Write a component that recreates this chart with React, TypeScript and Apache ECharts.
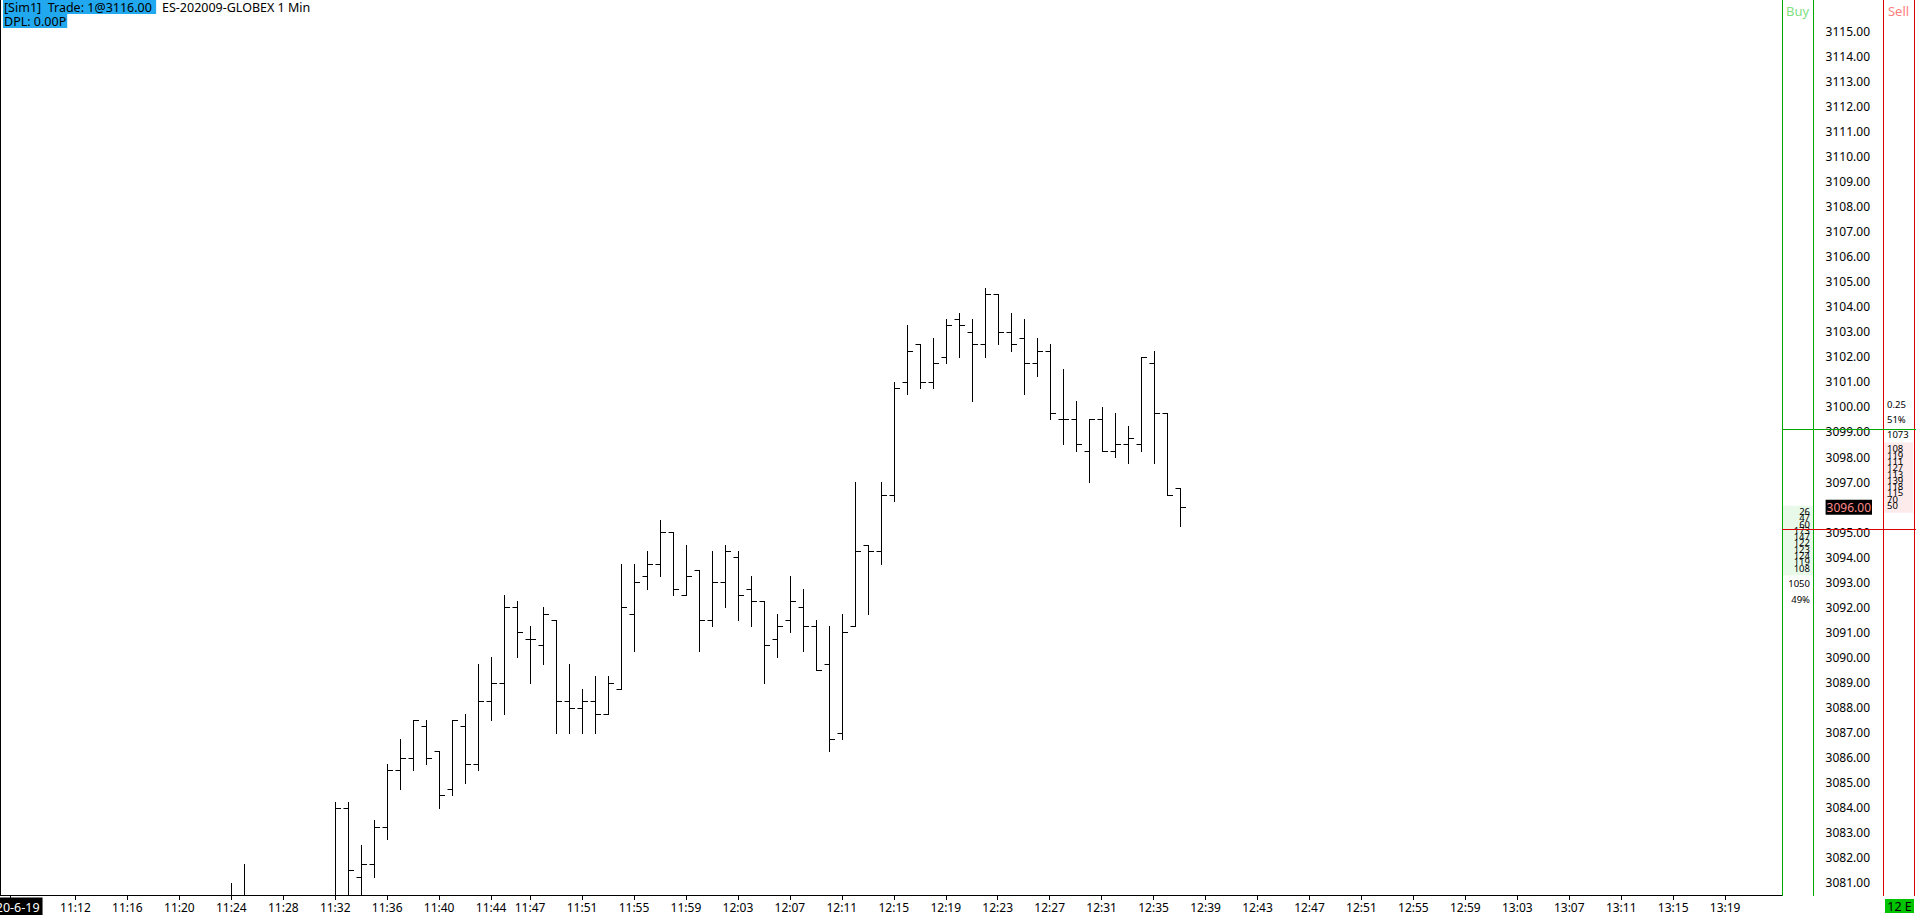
import React, { useEffect, useRef } from 'react';
import * as echarts from 'echarts';

// ---------- Data ----------
const firstMinute = '11:07';
const minuteCount = 137; // 11:07 .. 13:23 (one slot per minute bar)
const sessionDate = '2020-6-19';

const axisLabelTimes = [
  '11:07', '11:12', '11:16', '11:20', '11:24', '11:28', '11:32', '11:36', '11:40', '11:44',
  '11:47', '11:51', '11:55', '11:59', '12:03', '12:07', '12:11', '12:15', '12:19', '12:23',
  '12:27', '12:31', '12:35', '12:39', '12:43', '12:47', '12:51', '12:55', '12:59', '13:03',
  '13:07', '13:11', '13:15', '13:19',
];

// visible 1-minute OHLC bars (bars between 11:26 and 11:31 lie below the visible range)
const barTimes = [
  '11:24', '11:25', '11:32', '11:33', '11:34', '11:35', '11:36', '11:37', '11:38', '11:39',
  '11:40', '11:41', '11:42', '11:43', '11:44', '11:45', '11:46', '11:47', '11:48', '11:49',
  '11:50', '11:51', '11:52', '11:53', '11:54', '11:55', '11:56', '11:57', '11:58', '11:59',
  '12:00', '12:01', '12:02', '12:03', '12:04', '12:05', '12:06', '12:07', '12:08', '12:09',
  '12:10', '12:11', '12:12', '12:13', '12:14', '12:15', '12:16', '12:17', '12:18', '12:19',
  '12:20', '12:21', '12:22', '12:23', '12:24', '12:25', '12:26', '12:27', '12:28', '12:29',
  '12:30', '12:31', '12:32', '12:33', '12:34', '12:35', '12:36', '12:37',
];
const opens = [
  3080.25, 3080.0, 3080.25, 3084.0, 3081.25, 3081.75, 3083.25, 3085.5, 3086.0, 3087.25,
  3086.25, 3084.75, 3087.25, 3085.75, 3088.25, 3089.0, 3092.0, 3090.75, 3090.5, 3091.5,
  3088.25, 3088.0, 3088.25, 3087.75, 3088.75, 3091.75, 3093.25, 3093.75, 3095.0, 3092.5,
  3093.5, 3091.5, 3093.0, 3094.0, 3092.75, 3092.25, 3090.75, 3091.5, 3092.0, 3091.25,
  3089.75, 3087.0, 3091.25, 3094.5, 3094.25, 3096.5, 3101.0, 3102.5, 3101.0, 3102.0,
  3103.5, 3103.0, 3102.5, 3104.5, 3103.0, 3102.75, 3101.75, 3102.25, 3099.5, 3099.5,
  3098.25, 3099.5, 3098.25, 3098.5, 3098.5, 3101.75, 3099.75, 3096.75,
];
const highs = [
  3081.0, 3081.75, 3084.25, 3084.25, 3082.5, 3083.5, 3085.75, 3086.75, 3087.5, 3087.5,
  3086.25, 3087.5, 3087.75, 3089.75, 3090.0, 3092.5, 3092.25, 3091.25, 3092.0, 3091.5,
  3089.75, 3088.75, 3089.25, 3089.25, 3093.75, 3093.75, 3094.25, 3095.5, 3095.0, 3094.5,
  3093.5, 3094.25, 3094.5, 3094.25, 3093.25, 3092.25, 3091.75, 3093.25, 3092.75, 3091.5,
  3091.25, 3091.75, 3097.0, 3094.5, 3097.0, 3101.0, 3103.25, 3102.5, 3102.75, 3103.5,
  3103.75, 3103.5, 3104.75, 3104.5, 3103.75, 3103.5, 3102.75, 3102.5, 3101.5, 3100.25,
  3099.5, 3100.0, 3099.75, 3099.25, 3102.0, 3102.25, 3099.75, 3096.75,
];
const lows = [
  3079.75, 3079.5, 3080.0, 3080.25, 3080.25, 3081.25, 3082.75, 3084.75, 3085.5, 3085.75,
  3084.0, 3084.5, 3085.0, 3085.5, 3087.5, 3087.75, 3090.0, 3089.0, 3089.75, 3087.0,
  3087.0, 3087.0, 3087.0, 3087.75, 3088.75, 3090.25, 3092.75, 3093.25, 3092.5, 3092.5,
  3090.25, 3091.25, 3092.0, 3091.5, 3091.25, 3089.0, 3090.0, 3091.0, 3090.25, 3089.5,
  3086.25, 3086.75, 3091.25, 3091.75, 3093.75, 3096.25, 3100.5, 3100.75, 3100.75, 3101.75,
  3102.0, 3100.25, 3102.0, 3102.5, 3102.25, 3100.5, 3101.25, 3099.5, 3098.5, 3098.25,
  3097.0, 3098.25, 3098.0, 3097.75, 3098.25, 3097.75, 3096.5, 3095.25,
];
const closes = [
  3080.0, 3080.25, 3084.0, 3081.5, 3081.75, 3083.25, 3085.5, 3086.0, 3087.5, 3086.0,
  3084.5, 3087.5, 3085.75, 3088.25, 3089.0, 3092.0, 3091.0, 3090.75, 3091.75, 3088.25,
  3088.0, 3088.25, 3087.75, 3089.0, 3092.0, 3093.0, 3093.75, 3095.0, 3092.75, 3093.25,
  3091.5, 3093.0, 3094.25, 3092.5, 3092.25, 3090.5, 3091.25, 3092.25, 3091.25, 3089.5,
  3086.75, 3091.0, 3094.25, 3094.25, 3096.5, 3100.75, 3102.25, 3101.0, 3101.75, 3103.25,
  3103.25, 3102.5, 3104.5, 3103.0, 3102.5, 3101.75, 3102.25, 3099.75, 3099.5, 3098.5,
  3099.5, 3098.25, 3098.5, 3098.75, 3102.0, 3099.75, 3096.5, 3096.0,
];

const priceMin = 3080.52;
const priceMax = 3116.24;
const priceLabels = [
  3081, 3082, 3083, 3084, 3085, 3086, 3087, 3088, 3089, 3090, 3091, 3092, 3093, 3094, 3095, 3096,
  3097, 3098, 3099, 3100, 3101, 3102, 3103, 3104, 3105, 3106, 3107, 3108, 3109, 3110, 3111, 3112,
  3113, 3114, 3115,
];
const lastPrice = 3096;
const tickSize = 0.25;

// Depth of market
const askStartPrice = 3098.5;
const askSizes = [108, 119, 111, 127, 113, 139, 118, 115, 70, 50];
const bidStartPrice = 3096.0;
const bidSizes = [26, 47, 60, 173, 147, 122, 123, 124, 119, 108];
const askTotal = '1073';
const askPct = '51%';
const bidTotal = '1050';
const bidPct = '49%';
const spreadText = '0.25';
const buyLinePrice = 3099.125;
const sellLinePrice = 3095.125;

const headerTrade = '[Sim1]  Trade: 1@3116.00 ';
const headerInstrument = 'ES-202009-GLOBEX 1 Min';
const headerDpl = 'DPL: 0.00P';
const connectionText = '12 E';

// ---------- helpers ----------
function buildCategories(): string[] {
  const [h, m] = firstMinute.split(':').map(Number);
  const out: string[] = [];
  for (let i = 0; i < minuteCount; i++) {
    const t = h * 60 + m + i;
    out.push(`${Math.floor(t / 60)}:${String(t % 60).padStart(2, '0')}`);
  }
  return out;
}

const FONT = '"Noto Sans", sans-serif';
const GREEN = '#00a800';
const RED = '#dd0000';

export default function App() {
  const ref = useRef<HTMLDivElement>(null);

  useEffect(() => {
    document.body.style.margin = '0';
    const el = ref.current!;
    const chart = echarts.init(el, null, { renderer: 'svg', width: 1916, height: 915 });
    const categories = buildCategories();
    const labelSet = new Set(axisLabelTimes);
    const data = barTimes.map((t, i) => [categories.indexOf(t), opens[i], highs[i], lows[i], closes[i]]);

    chart.setOption({
      animation: false,
      textStyle: { fontFamily: FONT },
      grid: { left: 4, right: 132.4, top: 0, bottom: 20, containLabel: false, outerBoundsMode: 'none' },
      xAxis: {
        type: 'category',
        data: categories,
        boundaryGap: true,
        axisLine: { show: false },
        axisTick: {
          show: true,
          alignWithLabel: true,
          length: 5,
          interval: (i: number, v: string) => labelSet.has(v),
          lineStyle: { color: '#000', width: 1 },
        },
        axisLabel: {
          interval: (i: number, v: string) => labelSet.has(v),
          margin: 5,
          color: '#000',
          fontSize: 12,
          lineHeight: 14,
          fontFamily: FONT,
          formatter: (v: string) => (v === firstMinute ? `{d|${sessionDate}}` : v),
          rich: {
            d: { backgroundColor: '#000', color: '#fff', fontSize: 12.5, lineHeight: 14, padding: [3, 3, 3, 3], fontFamily: FONT },
          },
        },
        splitLine: { show: false },
      },
      yAxis: {
        type: 'value',
        position: 'right',
        min: priceMin,
        max: priceMax,
        axisLine: { show: false },
        axisTick: { show: false },
        splitLine: { show: false },
        axisLabel: {
          customValues: priceLabels,
          margin: 42,
          color: '#000',
          fontSize: 12,
          fontFamily: FONT,
          formatter: (v: number) => (v === lastPrice ? `{cur|${v.toFixed(2)}}` : v.toFixed(2)),
          rich: {
            cur: { backgroundColor: '#000', color: '#ff8a8a', fontSize: 12, padding: [2, 1, 1, 1], fontFamily: FONT },
          },
        },
      },
      series: [
        {
          type: 'custom',
          clip: true,
          encode: { x: 0, y: [1, 2, 3, 4] },
          data,
          renderItem: (params: any, api: any) => {
            const idx = api.value(0);
            const o = api.coord([idx, api.value(1)]);
            const h = api.coord([idx, api.value(2)]);
            const l = api.coord([idx, api.value(3)]);
            const c = api.coord([idx, api.value(4)]);
            const cx = Math.round(h[0]) + 0.5;
            const yo = Math.round(o[1]) + 0.5;
            const yc = Math.round(c[1]) + 0.5;
            const st = { stroke: '#000', lineWidth: 1 };
            return {
              type: 'group',
              children: [
                { type: 'line', shape: { x1: cx, y1: Math.round(h[1]), x2: cx, y2: Math.round(l[1]) + 1 }, style: st },
                { type: 'line', shape: { x1: cx - 5, y1: yo, x2: cx, y2: yo }, style: st },
                { type: 'line', shape: { x1: cx, y1: yc, x2: cx + 5.5, y2: yc }, style: st },
              ],
            };
          },
        },
      ],
    });

    const py = (p: number) => chart.convertToPixel({ yAxisIndex: 0 }, p) as number;
    const g: any[] = [];
    const line = (x1: number, y1: number, x2: number, y2: number, color: string, z = 60) => ({
      type: 'line', silent: true, z, shape: { x1, y1, x2, y2 }, style: { stroke: color, lineWidth: 1 },
    });
    const txt = (x: number, y: number, text: string, size: number, fill: string, align = 'left', vAlign = 'middle', z = 55) => ({
      type: 'text', silent: true, z, x, y,
      style: { text, fill, font: `${size}px ${FONT}`, align, verticalAlign: vAlign },
    });

    // DOM boxes
    const askLastY = py(askStartPrice - (askSizes.length - 1) * tickSize);
    const askTopY = py(askStartPrice);
    g.push({ type: 'rect', silent: true, z: 40, shape: { x: 1884, y: askTopY - 2, width: 29, height: askLastY - askTopY + 14 }, style: { fill: '#fdeaea' } });
    const bidTopY = py(bidStartPrice);
    const bidLastY = py(bidStartPrice - (bidSizes.length - 1) * tickSize);
    g.push({ type: 'rect', silent: true, z: 40, shape: { x: 1783, y: bidTopY - 1.5, width: 30, height: bidLastY - bidTopY + 13.5 }, style: { fill: '#e9f9e9' } });

    askSizes.forEach((s, i) => {
      g.push(txt(1887, py(askStartPrice - i * tickSize) + 4.5, String(s), 9.5, '#000'));
    });
    bidSizes.forEach((s, i) => {
      g.push(txt(1810, py(bidStartPrice - i * tickSize) + 4.5, String(s), 9.5, '#000', 'right'));
    });
    g.push(txt(1887, askTopY - 40.2, spreadText, 9.5, '#000'));
    g.push(txt(1887, askTopY - 25.2, askPct, 9.5, '#000'));
    g.push(txt(1887, askTopY - 10.2, askTotal, 9.5, '#000'));
    g.push(txt(1810, bidLastY + 19.9, bidTotal, 9.5, '#000', 'right'));
    g.push(txt(1810, bidLastY + 35.6, bidPct, 9.5, '#000', 'right'));

    // frame and panel lines
    g.push(line(0.5, 0, 0.5, 896, '#000'));
    g.push(line(0, 895.5, 1782.5, 895.5, '#000'));
    g.push(line(1782.5, 0, 1782.5, 896, GREEN));
    g.push(line(1813.5, 0, 1813.5, 896, GREEN));
    g.push(line(1883.5, 0, 1883.5, 896, RED));
    g.push(line(1914.5, 0, 1914.5, 896, RED));
    const yBuy = Math.round(py(buyLinePrice)) + 0.5;
    const ySell = Math.round(py(sellLinePrice)) + 0.5;
    g.push(line(1782, yBuy, 1916, yBuy, GREEN, 70));
    g.push(line(1782, ySell, 1916, ySell, RED, 70));

    // Buy / Sell captions
    g.push(txt(1797.5, 11, 'Buy', 13, '#7fe07f', 'center'));
    g.push(txt(1898.5, 11, 'Sell', 13, '#ff8080', 'center'));

    // connection indicator
    g.push({ type: 'rect', silent: true, z: 50, shape: { x: 1885, y: 899, width: 29, height: 14 }, style: { fill: '#00c400' } });
    g.push(txt(1899.5, 906.5, connectionText, 12.5, '#000', 'center', 'middle', 56));

    // header
    g.push({
      type: 'text', silent: true, z: 90, x: 3, y: 0,
      style: { text: headerTrade, fill: '#000', font: `12.5px ${FONT}`, backgroundColor: '#22a8ef', padding: [0, 1, 0, 1], lineHeight: 14, verticalAlign: 'top' },
    });
    g.push({
      type: 'text', silent: true, z: 90, x: 162, y: 0,
      style: { text: headerInstrument, fill: '#000', font: `12.5px ${FONT}`, padding: [0, 0, 0, 0], lineHeight: 14, verticalAlign: 'top' },
    });
    g.push({
      type: 'text', silent: true, z: 90, x: 3, y: 14,
      style: { text: headerDpl, fill: '#000', font: `12.5px ${FONT}`, backgroundColor: '#22a8ef', padding: [0, 1, 0, 1], lineHeight: 14, verticalAlign: 'top' },
    });

    chart.setOption({ graphic: g });

    return () => chart.dispose();
  }, []);

  return (
    <div
      ref={ref}
      style={{ position: 'fixed', left: 0, top: 0, width: 1916, height: 915, background: '#fff' }}
    />
  );
}
